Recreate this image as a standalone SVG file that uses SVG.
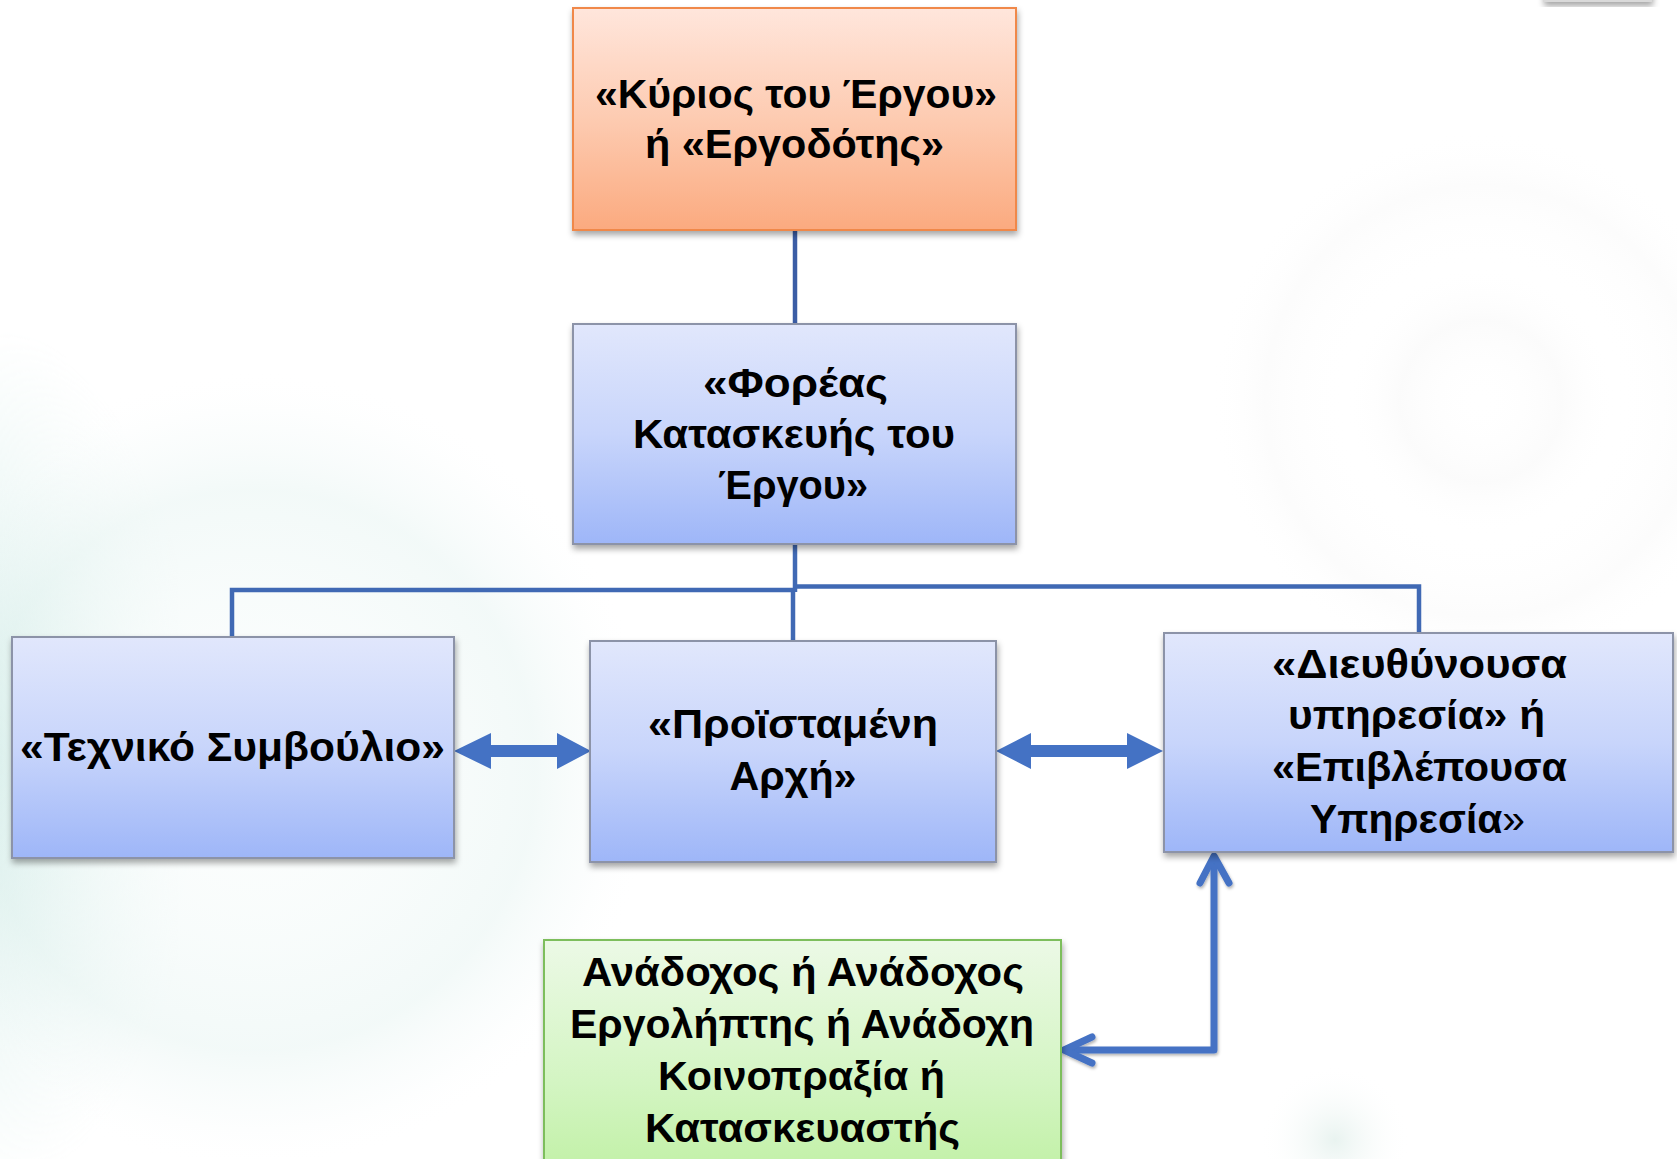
<svg xmlns="http://www.w3.org/2000/svg" width="1677" height="1159" viewBox="0 0 1677 1159">
<defs>
<style>
.t{font-family:"Liberation Sans",Arial,sans-serif;font-weight:700;font-size:41px;fill:#000;text-anchor:middle}
.box{stroke-width:2}
.blue{fill:url(#gBlue);stroke:#8C93A8}
.conn{stroke:#4069B4;stroke-width:4.5;fill:none}
</style>
<linearGradient id="gOrange" x1="0" y1="0" x2="0" y2="1">
<stop offset="0" stop-color="#FFE6DC"/>
<stop offset="0.5" stop-color="#FDCBB1"/>
<stop offset="1" stop-color="#FBAA7F"/>
</linearGradient>
<linearGradient id="gBlue" x1="0" y1="0" x2="0" y2="1">
<stop offset="0" stop-color="#E1E7FC"/>
<stop offset="0.5" stop-color="#C8D5FB"/>
<stop offset="1" stop-color="#9EB6F8"/>
</linearGradient>
<linearGradient id="gGreen" x1="0" y1="0" x2="0" y2="1">
<stop offset="0" stop-color="#ECF9E6"/>
<stop offset="0.6" stop-color="#D3F5C2"/>
<stop offset="1" stop-color="#C0F0A4"/>
</linearGradient>
<radialGradient id="bgLeft" cx="0.5" cy="0.5" r="0.5">
<stop offset="0" stop-color="#F4FAF9" stop-opacity="0.2"/>
<stop offset="0.45" stop-color="#EAF6F4" stop-opacity="0.35"/>
<stop offset="0.7" stop-color="#E0F1EE" stop-opacity="0.4"/>
<stop offset="0.87" stop-color="#EEF7F6" stop-opacity="0.2"/>
<stop offset="1" stop-color="#FFFFFF" stop-opacity="0"/>
</radialGradient>
<linearGradient id="bgLeftLin" x1="0" y1="0" x2="1" y2="0">
<stop offset="0" stop-color="#D6EEEA" stop-opacity="0.9"/>
<stop offset="1" stop-color="#FFFFFF" stop-opacity="0"/>
</linearGradient>
<radialGradient id="fadeV" cx="0" cy="0.5" r="0.5">
<stop offset="0" stop-color="#fff"/>
<stop offset="1" stop-color="#000"/>
</radialGradient>
<mask id="leftMask" maskUnits="userSpaceOnUse" x="0" y="330" width="400" height="860"><rect x="0" y="330" width="400" height="860" fill="url(#fadeV)"/></mask>
<radialGradient id="bgRight" cx="0.5" cy="0.5" r="0.5">
<stop offset="0" stop-color="#FFFFFF" stop-opacity="0"/>
<stop offset="0.3" stop-color="#F4F4F4" stop-opacity="0.35"/>
<stop offset="0.5" stop-color="#FFFFFF" stop-opacity="0"/>
<stop offset="0.8" stop-color="#F6F6F6" stop-opacity="0.35"/>
<stop offset="1" stop-color="#FFFFFF" stop-opacity="0"/>
</radialGradient>
<radialGradient id="bgBR" cx="0.5" cy="0.5" r="0.5">
<stop offset="0" stop-color="#E3F0EC" stop-opacity="0.8"/>
<stop offset="1" stop-color="#FFFFFF" stop-opacity="0"/>
</radialGradient>
<filter id="sh" x="-10%" y="-10%" width="120%" height="130%">
<feDropShadow dx="1" dy="4" stdDeviation="3" flood-color="#000" flood-opacity="0.35"/>
</filter>
<filter id="shL" x="-10%" y="-10%" width="120%" height="130%">
<feDropShadow dx="1" dy="2" stdDeviation="1.5" flood-color="#000" flood-opacity="0.3"/>
</filter>
</defs>

<g id="background">
<rect x="0" y="0" width="1677" height="1159" fill="#FFFFFF"/>
<rect x="0" y="330" width="400" height="860" fill="url(#bgLeftLin)" mask="url(#leftMask)"/>
<circle cx="255" cy="770" r="400" fill="url(#bgLeft)"/>
<circle cx="1481" cy="401" r="270" fill="url(#bgRight)"/>
<circle cx="1335" cy="1140" r="75" fill="url(#bgBR)"/>
<rect x="1543" y="-20" width="109" height="22" fill="#D9D9D9" filter="url(#sh)"/>
</g>

<g id="connectors">
<line x1="795" y1="230" x2="795" y2="324" stroke="#3B5DA5" stroke-width="4.5"/>
<line class="conn" x1="795" y1="544" x2="795" y2="592"/>
<polyline class="conn" points="795,590 232,590 232,637"/>
<polyline class="conn" points="795,586.5 1419,586.5 1419,633"/>
<line class="conn" x1="793" y1="590" x2="793" y2="641"/>
<polygon fill="#4472C4" points="454,751 491,733 491,745 557,745 557,733 591,751 557,769 557,757 491,757 491,769"/>
<polygon fill="#4472C4" points="996,751 1031,733 1031,745 1127,745 1127,733 1163,751 1127,769 1127,757 1031,757 1031,769"/>
<g fill="none" stroke="#4472C4" stroke-width="7" stroke-linecap="round" stroke-linejoin="round" filter="url(#shL)">
<polyline points="1214,858 1214,1050 1066,1050"/>
<polyline points="1200,883 1214,856 1229,883"/>
<polyline points="1092,1037 1064,1050 1092,1063"/>
</g>
</g>

<g id="node-kyrios">
<rect x="573" y="8" width="443" height="222" fill="url(#gOrange)" stroke="#F0884A" class="box" filter="url(#sh)"/>
<text class="t" x="796" y="108" textLength="402" lengthAdjust="spacingAndGlyphs">«Κύριος του Έργου»</text>
<text class="t" x="794.5" y="158" textLength="299" lengthAdjust="spacingAndGlyphs">ή «Εργοδότης»</text>
</g>

<g id="node-foreas">
<rect x="573" y="324" width="443" height="220" class="box blue" filter="url(#sh)"/>
<text class="t" x="795.5" y="397" textLength="185" lengthAdjust="spacingAndGlyphs">«Φορέας</text>
<text class="t" x="794" y="448" textLength="322" lengthAdjust="spacingAndGlyphs">Κατασκευής του</text>
<text class="t" x="793" y="499" textLength="150" lengthAdjust="spacingAndGlyphs">Έργου»</text>
</g>

<g id="node-techniko">
<rect x="12" y="637" width="442" height="221" class="box blue" filter="url(#sh)"/>
<text class="t" x="232.5" y="761" textLength="425" lengthAdjust="spacingAndGlyphs">«Τεχνικό Συμβούλιο»</text>
</g>

<g id="node-proistameni">
<rect x="590" y="641" width="406" height="221" class="box blue" filter="url(#sh)"/>
<text class="t" x="793" y="738" textLength="290" lengthAdjust="spacingAndGlyphs">«Προϊσταμένη</text>
<text class="t" x="793" y="790" textLength="127" lengthAdjust="spacingAndGlyphs">Αρχή»</text>
</g>

<g id="node-dieuthynousa">
<rect x="1164" y="633" width="509" height="219" class="box blue" filter="url(#sh)"/>
<text class="t" x="1419.5" y="678" textLength="295" lengthAdjust="spacingAndGlyphs">«Διευθύνουσα</text>
<text class="t" x="1416.5" y="729" textLength="257" lengthAdjust="spacingAndGlyphs">υπηρεσία» ή</text>
<text class="t" x="1419.5" y="781" textLength="295" lengthAdjust="spacingAndGlyphs">«Επιβλέπουσα</text>
<text class="t" x="1417.5" y="833" textLength="215" lengthAdjust="spacingAndGlyphs">Υπηρεσία<tspan font-weight="400">»</tspan></text>
</g>

<g id="node-anadochos">
<rect x="544" y="940" width="517" height="240" fill="url(#gGreen)" stroke="#7DBE5C" class="box" filter="url(#sh)"/>
<text class="t" x="803" y="986" textLength="442" lengthAdjust="spacingAndGlyphs">Ανάδοχος ή Ανάδοχος</text>
<text class="t" x="802" y="1038" textLength="464" lengthAdjust="spacingAndGlyphs">Εργολήπτης ή Ανάδοχη</text>
<text class="t" x="801.5" y="1090" textLength="287" lengthAdjust="spacingAndGlyphs">Κοινοπραξία ή</text>
<text class="t" x="802.5" y="1142" textLength="315" lengthAdjust="spacingAndGlyphs">Κατασκευαστής</text>
</g>
</svg>
